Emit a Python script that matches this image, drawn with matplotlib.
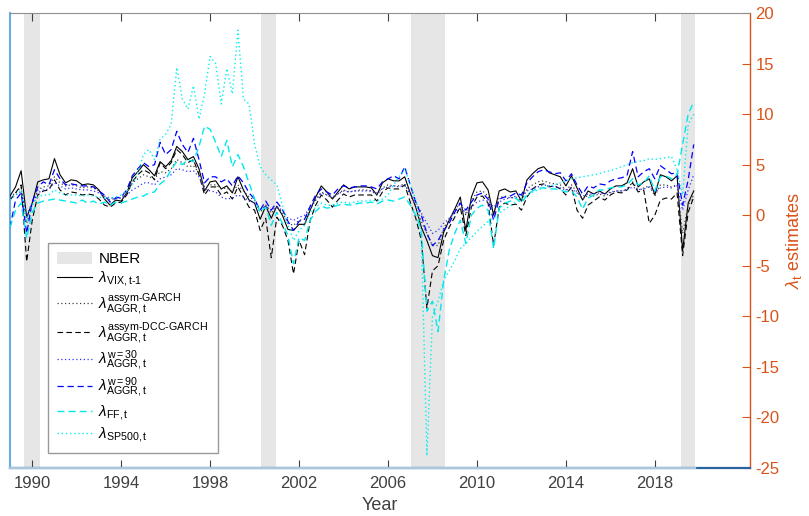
import numpy as np
import matplotlib
matplotlib.use("Agg")
import matplotlib.pyplot as plt
from matplotlib.patches import Patch
from matplotlib.lines import Line2D

plt.rcParams['font.family'] = ['Liberation Sans', 'DejaVu Sans']
plt.rcParams['mathtext.fontset'] = 'custom'
plt.rcParams['mathtext.rm'] = 'Liberation Sans'
plt.rcParams['mathtext.it'] = 'Liberation Sans:italic'

# quarterly grid (plot years)
years = np.arange(1989.0, 2019.76, 0.25)

vix = [
    1.9, 2.8, 4.4, -0.2,
    1.2, 3.3, 3.5, 3.6,
    5.6, 4.0, 3.2, 3.5,
    3.4, 3.0, 3.1, 3.0,
    2.5, 1.6, 1.0, 1.5,
    1.4, 2.2, 3.7, 4.3,
    5.0, 4.5, 3.9, 5.3,
    4.8, 5.4, 6.8, 6.3,
    5.5, 5.8, 4.6, 2.4,
    3.3, 3.4, 2.6, 2.9,
    2.2, 3.8, 2.5, 1.5,
    1.2, -0.4, 0.9, -0.3,
    0.9, 0.0, -1.4, -1.5,
    -0.9, -0.9, 0.5, 1.8,
    2.9, 2.3, 1.6, 2.3,
    3.0, 2.6, 2.8, 2.8,
    2.8, 2.7, 2.0, 3.2,
    3.6, 3.4, 3.4, 3.8,
    2.2, 0.8, -1.2, -2.5,
    -4.0, -4.2, -1.7, -0.5,
    0.6, 1.8, -1.5, 1.8,
    3.2, 3.3, 2.5, 0.0,
    2.4, 2.6, 2.3, 2.4,
    1.4, 3.5, 4.1, 4.6,
    4.8, 4.2, 4.0, 3.8,
    2.9, 3.9, 2.7, 1.5,
    2.4, 2.1, 2.4, 2.1,
    2.6, 2.9, 2.9, 3.2,
    4.6, 2.8, 3.3, 3.6,
    2.0, 4.0, 3.8, 3.4,
    3.9, -3.5, 1.2, 2.4,
]

garch = [
    1.8, 2.2, 2.8, -0.8,
    1.0, 2.5, 2.8, 2.9,
    3.8, 3.2, 2.9, 3.0,
    2.9, 2.7, 2.8, 2.7,
    2.4, 1.8, 1.5, 1.7,
    1.7, 2.2, 3.2, 3.6,
    4.0, 3.8, 3.6, 4.3,
    4.2, 4.6, 5.5, 5.2,
    4.8, 4.9, 4.2, 2.8,
    3.0, 3.0, 2.6, 2.7,
    2.3, 3.0, 2.4, 1.8,
    1.5, 0.3, 1.0, 0.2,
    0.8, 0.3, -0.8, -1.0,
    -0.5, -0.4, 0.6, 1.5,
    2.3, 2.0, 1.7, 2.1,
    2.5, 2.3, 2.4, 2.5,
    2.5, 2.4, 2.0, 2.7,
    3.0, 2.9, 2.9, 3.1,
    2.0, 0.9, -0.6, -1.8,
    -3.0, -3.0, -1.3, -0.4,
    0.4, 1.3, 0.0, 1.4,
    2.3, 2.4, 1.9, 0.3,
    1.7, 1.9, 1.7, 1.8,
    1.4, 2.6, 3.0, 3.3,
    3.4, 3.2, 3.1, 3.0,
    2.5, 3.0, 2.3, 1.6,
    2.0, 1.9, 2.1, 1.9,
    2.2, 2.4, 2.4, 2.6,
    3.3, 2.5, 2.7, 2.9,
    1.9, 3.0, 3.0, 2.8,
    3.0, -1.8, 1.0, 2.0,
]

dcc = [
    1.5, 2.2, 3.0, -4.6,
    -0.5, 2.0, 2.4, 2.5,
    3.5, 2.5, 2.0, 2.3,
    2.2, 2.0, 2.1, 2.0,
    1.6, 1.0, 0.8, 1.2,
    1.3, 2.0, 3.3, 4.0,
    4.5, 4.2, 3.5, 5.2,
    4.6, 5.2, 6.5, 6.0,
    5.2, 5.5, 4.0, 2.0,
    2.8, 2.8, 2.0, 2.3,
    1.6, 2.8, 1.8, 0.8,
    0.5, -1.5, -0.3, -4.2,
    -0.2, -1.0, -2.5, -5.8,
    -2.5, -3.9, -0.5, 1.0,
    2.0, 1.5, 0.8, 1.5,
    2.1, 1.8, 2.0, 2.0,
    2.0, 2.0, 1.4, 2.3,
    2.7, 2.6, 2.6, 3.0,
    1.3, -0.3, -2.5, -9.2,
    -5.5, -5.0, -2.5, -1.2,
    -0.2, 0.8, -2.0, 0.8,
    1.8, 1.9, 1.2, -3.0,
    0.8, 1.2, 1.0, 1.1,
    0.5, 1.8, 2.6, 3.0,
    3.1, 2.8, 2.9, 2.6,
    2.0, 2.8, 0.5, -0.3,
    1.0, 1.4, 1.8, 1.5,
    2.0, 2.3, 2.2, 2.5,
    3.2, 2.3, 2.5, -0.8,
    0.0, 1.5, 1.7, 1.6,
    2.2, -4.0, 0.3, 1.8,
]

w30 = [
    1.6, 2.0, 2.3, 0.0,
    1.2, 2.2, 2.5, 2.6,
    3.2, 2.9, 2.6, 2.7,
    2.6, 2.5, 2.5, 2.4,
    2.2, 1.9, 1.7, 1.7,
    1.7, 2.0, 2.5, 2.8,
    3.2, 3.2, 3.0, 3.6,
    3.8, 4.0, 4.6, 4.5,
    4.3, 4.4, 3.8, 2.6,
    2.4, 2.3, 1.8, 1.6,
    1.7, 2.0, 1.8, 1.4,
    1.2, 0.6, 0.9, 0.5,
    0.8, 0.5, -0.3, -0.5,
    -0.2, 0.0, 0.8, 1.5,
    2.2, 2.0, 1.8, 2.1,
    2.4, 2.3, 2.4, 2.4,
    2.4, 2.4, 2.2, 2.6,
    2.8, 2.9, 2.8, 3.0,
    2.2, 1.3, 0.2, -0.8,
    -1.8, -1.5, -0.8, -0.3,
    0.2, 0.7, 0.2, 0.8,
    1.3, 1.5, 1.4, 0.8,
    1.3, 1.6, 1.7, 1.9,
    1.9, 2.4, 2.6, 2.8,
    3.0, 2.9, 2.8, 2.7,
    2.5, 2.6, 2.2, 1.9,
    2.1, 2.1, 2.2, 2.1,
    2.3, 2.4, 2.4, 2.5,
    2.8, 2.5, 2.6, 2.8,
    2.3, 2.7, 2.8, 2.7,
    3.0, 0.5, 2.5, 4.0,
]

w90 = [
    -1.2, 1.5, 2.2, -1.8,
    1.3, 2.8, 3.3, 3.0,
    4.5, 3.6, 3.0, 3.1,
    3.0, 2.9, 2.9, 2.8,
    2.4, 2.0, 1.3, 1.7,
    1.8, 2.5, 3.9, 4.6,
    5.2, 4.8, 5.0, 7.2,
    6.0, 6.5, 8.3, 7.0,
    6.2, 7.6, 5.5, 3.2,
    3.8, 3.8, 3.3, 3.6,
    2.9, 3.9, 3.2, 2.2,
    1.6, 0.5, 1.4, 0.5,
    1.3, 0.6, -0.6, -1.5,
    -0.6, -0.4, 0.9, 2.0,
    2.6, 2.3, 2.0, 2.6,
    2.9, 2.7, 2.8, 2.9,
    2.9, 2.8, 2.6, 3.3,
    3.6, 3.9, 3.6, 4.8,
    3.0, 1.3, 0.0, -1.8,
    -3.0, -2.5, -1.5, -0.8,
    0.3, 1.2, 0.5, 1.3,
    2.0, 2.2, 1.6, -0.5,
    1.6, 1.8, 1.9, 2.2,
    2.0, 3.2, 3.8, 4.3,
    4.5, 4.3, 4.1, 4.2,
    3.4, 4.1, 3.0, 2.1,
    2.9, 2.7, 3.1, 3.0,
    3.4, 3.6, 3.7, 3.9,
    6.3, 3.8, 4.3, 4.6,
    3.6, 4.9, 4.5, 4.1,
    4.2, 1.0, 3.5, 7.0,
]

ff = [
    -1.2, 0.5, 1.2, -2.3,
    0.3, 1.2, 1.4, 1.5,
    1.6, 1.5, 1.4, 1.3,
    1.2, 1.5, 1.2, 1.4,
    1.1, 1.3, 1.0, 1.3,
    1.2, 1.4, 1.6, 1.8,
    1.9, 2.2, 2.3, 3.1,
    3.5, 4.5, 5.3, 5.0,
    5.5, 5.3, 6.8, 8.8,
    8.5, 7.2, 5.8, 7.4,
    4.8, 6.0, 4.8, 3.2,
    1.6, 0.3, 0.8, -1.0,
    0.3, -0.8, -2.0, -4.8,
    -2.2, -2.5, -0.5, 0.4,
    0.9, 0.7, 0.8, 1.0,
    1.1, 1.0, 1.1, 1.2,
    1.2, 1.3, 1.1, 1.4,
    1.5, 1.4, 1.6, 1.8,
    1.0, 0.0, -1.5, -9.5,
    -8.5, -11.5, -6.5, -3.5,
    -1.8, -0.5, -2.8, 0.0,
    0.7, 1.0, 0.5, -3.3,
    0.7, 1.2, 1.4, 1.7,
    1.2, 2.0, 2.4, 2.7,
    2.7, 2.6, 2.6, 2.5,
    2.3, 2.4, 1.8, 0.6,
    1.7, 2.0, 2.5, 2.5,
    2.7, 2.8, 2.8, 3.0,
    3.6, 3.0, 3.2, 3.9,
    2.4, 3.8, 3.9, 3.6,
    4.0, 7.0, 10.0, 11.2,
]

sp500 = [
    1.5, 2.0, 2.5, -0.5,
    1.0, 1.8, 2.0, 2.0,
    2.5, 2.2, 2.0, 2.0,
    2.0, 1.9, 2.0, 1.9,
    1.8, 1.7, 1.7, 1.8,
    2.0, 2.4, 3.0, 4.2,
    6.0, 6.5, 5.5, 7.5,
    8.0, 9.0, 14.6, 11.5,
    10.5, 12.8, 9.5, 12.0,
    15.7, 15.0, 11.0, 14.5,
    12.0, 18.3, 11.5, 11.0,
    7.0, 4.8, 4.0, 3.5,
    3.0, 1.0, -1.0, -2.5,
    -1.5, -1.0, 0.2, 0.8,
    1.2, 1.0, 1.0, 1.2,
    1.3, 1.2, 1.3, 1.4,
    1.4, 1.5, 1.4, 1.6,
    2.0, 3.0, 3.8, 4.6,
    3.0, 1.5, -2.0, -23.8,
    -10.0, -8.5, -6.5, -5.5,
    -4.5, -3.3, -2.8, -2.2,
    -1.6, -1.1, -0.6, -0.3,
    0.2, 0.6, 0.9, 1.3,
    1.6, 2.0, 2.3, 2.5,
    2.7, 2.9, 3.0, 3.2,
    3.4, 3.6, 3.7, 3.8,
    3.9, 4.0, 4.1, 4.3,
    4.4, 4.6, 4.8, 5.0,
    5.2, 5.3, 5.4, 5.6,
    5.5, 5.6, 5.7, 5.8,
    4.5, 2.0, 9.0, 10.0,
]

nber_start = [1989.64, 2000.29, 2007.05, 2019.18]
nber_end = [1990.33, 2000.98, 2008.56, 2019.80]

xticks = [1990, 1994, 1998, 2002, 2006, 2010, 2014, 2018]
yticks = [20, 15, 10, 5, 0, -5, -10, -15, -20, -25]
ylim = (-25, 20)
xlim = (1989.0, 2022.28)

labels = [
    'NBER',
    r'$\lambda_{\mathrm{VIX,t\text{-}1}}$',
    r'$\lambda^{\text{assym-GARCH}}_{\mathrm{AGGR,t}}$',
    r'$\lambda^{\text{assym-DCC-GARCH}}_{\mathrm{AGGR,t}}$',
    r'$\lambda^{\mathrm{w=30}}_{\mathrm{AGGR,t}}$',
    r'$\lambda^{\mathrm{w=90}}_{\mathrm{AGGR,t}}$',
    r'$\lambda_{\mathrm{FF,t}}$',
    r'$\lambda_{\mathrm{SP500,t}}$',
]

orange = '#D95319'
fig = plt.figure(figsize=(8.09, 5.16), dpi=100)
ax = fig.add_axes([10/809, 1-468/516, 740/809, 455/516])

for s, e in zip(nber_start, nber_end):
    ax.axvspan(s, e, color='#e6e6e6', lw=0, zorder=0)

dash = (5, 3)
styles = [
    dict(color='#000000', lw=0.8, ls='-'),
    dict(color='#404040', lw=0.9, ls=(0, (1, 2))),
    dict(color='#000000', lw=0.8, ls=(0, dash)),
    dict(color='#3030ff', lw=0.9, ls=(0, (1, 2))),
    dict(color='#0000ff', lw=0.9, ls=(0, dash)),
    dict(color='#00e8ee', lw=1.0, ls=(0, dash)),
    dict(color='#00f0f0', lw=1.0, ls=(0, (1, 2))),
]
series = [vix, garch, dcc, w30, w90, ff, sp500]
for s, st in zip(series, styles):
    ax.plot(years, s, zorder=3, **st)

ax.set_xlim(*xlim)
ax.set_ylim(*ylim)

# bottom axis overlay up to end of last recession shading
ax.plot([xlim[0], nber_end[-1]], [ylim[0], ylim[0]], color='#a9c6dd', lw=1.6,
        zorder=5, clip_on=False)

ax.yaxis.tick_right()
ax.yaxis.set_label_position('right')
ax.set_yticks(yticks)
ax.set_yticklabels([str(v) for v in yticks])
ax.tick_params(axis='y', direction='in', length=6, colors=orange, labelsize=12,
               width=0.8, pad=4)
ax.set_xticks(xticks)
ax.tick_params(axis='x', direction='in', length=6, colors='#404040', labelsize=12,
               top=True, width=0.8, pad=6)

ax.spines['left'].set_color('#6aaee0')
ax.spines['left'].set_linewidth(1.5)
ax.spines['right'].set_color(orange)
ax.spines['right'].set_linewidth(1.0)
ax.spines['top'].set_color('#909090')
ax.spines['top'].set_linewidth(0.8)
ax.spines['bottom'].set_color('#2a64a0')
ax.spines['bottom'].set_linewidth(1.6)

ax.set_xlabel('Year', fontsize=13, color='#404040')
ax.xaxis.set_label_coords(0.5, -0.063)
ax.set_ylabel(r'$\lambda_{\mathrm{t}}$ estimates', fontsize=13, color=orange,
              labelpad=3)

handles = [Patch(facecolor='#e6e6e6', edgecolor='none')]
handles += [Line2D([], [], **st) for st in styles]
leg = ax.legend(handles, labels, loc='upper left',
                bbox_to_anchor=((48-10)/740, (468-243)/455),
                fontsize=11, frameon=True, fancybox=False, handlelength=2.3,
                handleheight=0.8, handletextpad=0.4, labelspacing=0.2,
                borderpad=0.6, borderaxespad=0)
leg.get_frame().set_edgecolor('#808080')
leg.get_frame().set_linewidth(1.0)
leg.set_zorder(10)

fig.savefig('out.png', dpi=100)
